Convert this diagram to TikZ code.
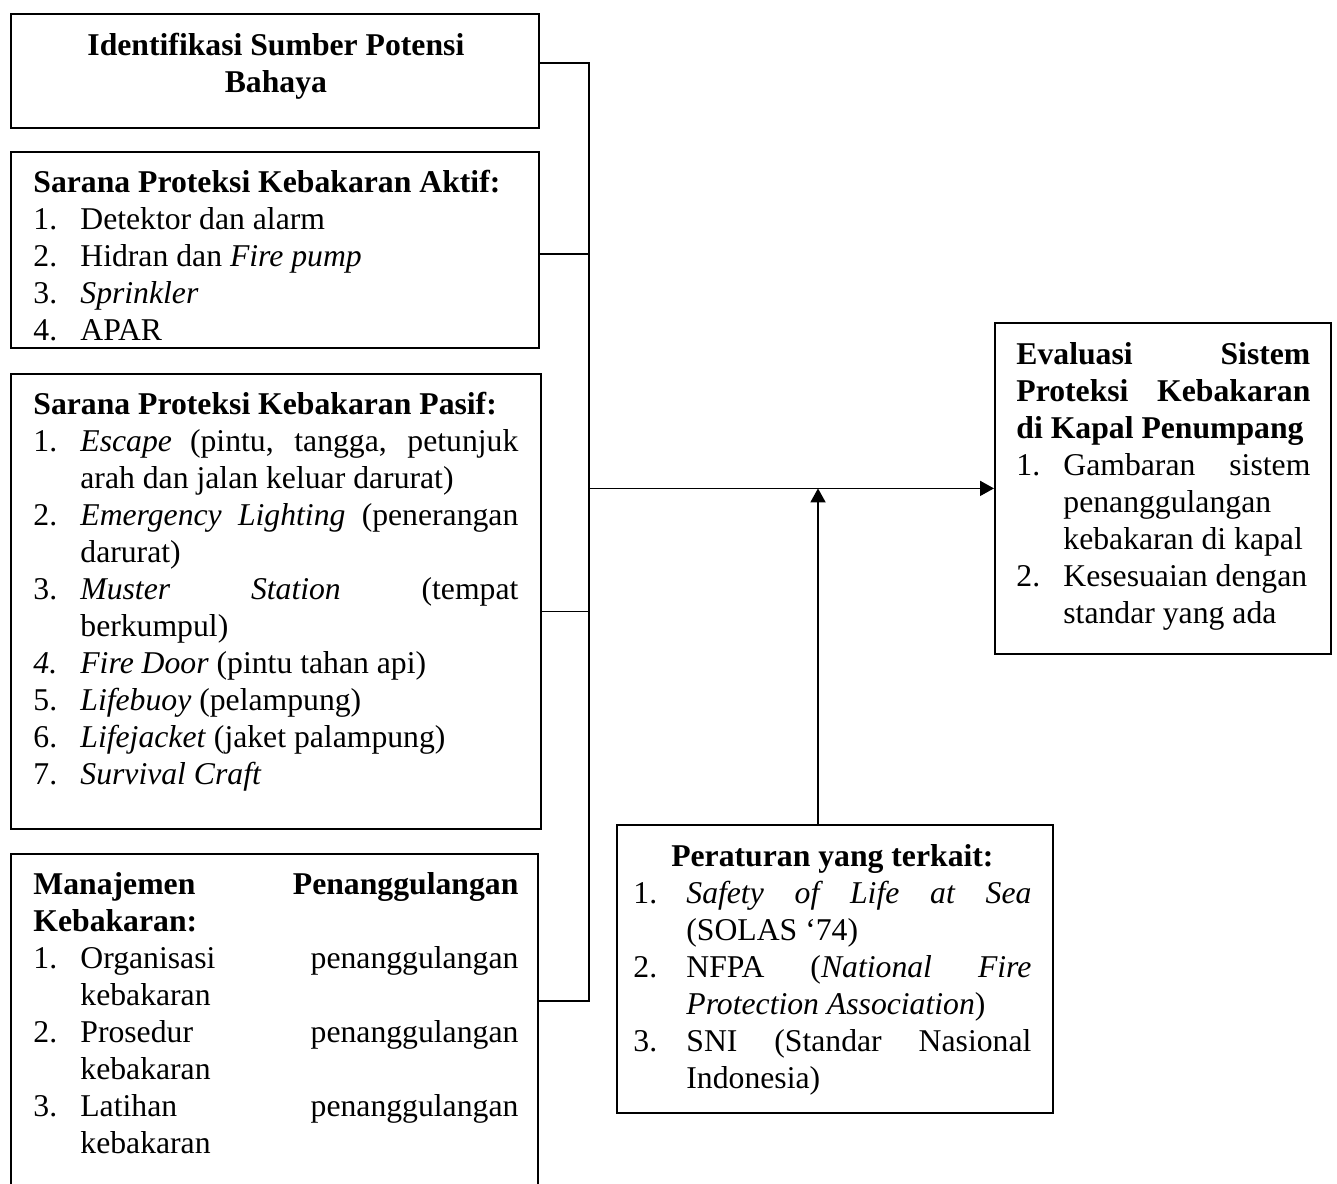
\documentclass[tikz,border=0pt]{standalone}
\usepackage{fontspec}
\setmainfont{Liberation Serif}
\usetikzlibrary{arrows.meta}
\newcommand\nm[1]{\makebox[23.5pt][l]{#1}}
\newcommand\nmb[1]{\makebox[26.5pt][l]{#1}}
\newcommand\jl[2]{\makebox[#1][s]{\spaceskip=0pt\relax\xspaceskip=0pt\relax #2}}
\newcommand\ind{\hspace*{23.5pt}}
\newcommand\indb{\hspace*{26.5pt}}
\newcommand\fl{\rule{0pt}{16pt}}
\newcommand\txtfont{\fontsize{15.85}{18.5}\selectfont}
\newcommand\txtsetup{\lineskiplimit=-20pt\relax\parindent=0pt\relax\spaceskip=0pt\relax\xspaceskip=0pt\relax}
\begin{document}
\begin{tikzpicture}[x=0.5pt,y=-0.5pt,
  boxshape/.style={draw,line width=0.9pt,inner sep=0pt,anchor=north west},
  txt/.style={inner sep=0pt,anchor=north west,align=left,font=\txtfont},
  link/.style={line width=0.9pt},
  tip/.style={line width=0.9pt,-{Triangle[length=7pt,width=7.5pt]}}]
\useasboundingbox (0,0) rectangle (1337,1183);

% boxes
\node[boxshape,minimum width=264pt,minimum height=57pt] (b1) at (10,13) {};
\node[boxshape,minimum width=264pt,minimum height=98pt] (b2) at (10,151) {};
\node[boxshape,minimum width=265pt,minimum height=227.5pt] (b3) at (10,373) {};
\node[boxshape,minimum width=263.5pt,minimum height=170pt] (b4) at (10,853) {};
\node[boxshape,minimum width=168pt,minimum height=165.5pt] (rb) at (994,322) {};
\node[boxshape,minimum width=218pt,minimum height=144pt] (pb) at (616,824) {};

% texts
\node[txt,text width=242.5pt] (t1) at (33,23) {\txtsetup\fl\makebox[242.5pt][c]{\textbf{Identifikasi Sumber Potensi}}\\
\makebox[242.5pt][c]{\textbf{Bahaya}}};

\node[txt,text width=242.5pt] (t2) at (33,160) {\txtsetup\fl\textbf{Sarana Proteksi Kebakaran Aktif:}\\
\nm{1.}Detektor dan alarm\\
\nm{2.}Hidran dan \textit{Fire pump}\\
\nm{3.}\textit{Sprinkler}\\
\nm{4.}APAR};

\node[txt,text width=242.5pt] (t3) at (33,382) {\txtsetup\fl\textbf{Sarana Proteksi Kebakaran Pasif:}\\
\nm{1.}\jl{219pt}{\textit{Escape} (pintu, tangga, petunjuk}\\
\ind arah dan jalan keluar darurat)\\
\nm{2.}\jl{219pt}{\textit{Emergency Lighting} (penerangan}\\
\ind darurat)\\
\nm{3.}\jl{219pt}{\textit{Muster} \textit{Station} (tempat}\\
\ind berkumpul)\\
\nm{\textit{4.}}\textit{Fire Door} (pintu tahan api)\\
\nm{5.}\textit{Lifebuoy} (pelampung)\\
\nm{6.}\textit{Lifejacket} (jaket palampung)\\
\nm{7.}\textit{Survival Craft}};

\node[txt,text width=242.5pt] (t4) at (33,862) {\txtsetup\fl\jl{242.5pt}{\textbf{Manajemen Penanggulangan}}\\
\textbf{Kebakaran:}\\
\nm{1.}\jl{219pt}{Organisasi penanggulangan}\\
\ind kebakaran\\
\nm{2.}\jl{219pt}{Prosedur penanggulangan}\\
\ind kebakaran\\
\nm{3.}\jl{219pt}{Latihan penanggulangan}\\
\ind kebakaran};

\node[txt,text width=147pt] (t5) at (1016,332) {\txtsetup\fl\jl{147pt}{\textbf{Evaluasi Sistem}}\\
\jl{147pt}{\textbf{Proteksi Kebakaran}}\\
\textbf{di Kapal Penumpang}\\
\nm{1.}\jl{123.5pt}{Gambaran sistem}\\
\ind penanggulangan\\
\ind kebakaran di kapal\\
\nm{2.}Kesesuaian dengan\\
\ind standar yang ada};

\node[txt,text width=199pt] (t6) at (633,834) {\txtsetup\fl\makebox[199pt][c]{\textbf{Peraturan yang terkait:}}\\
\nmb{1.}\jl{172.5pt}{\textit{Safety of Life at Sea}}\\
\indb (SOLAS ‘74)\\
\nmb{2.}\jl{172.5pt}{NFPA (\textit{National Fire}}\\
\indb \textit{Protection Association})\\
\nmb{3.}\jl{172.5pt}{SNI (Standar Nasional}\\
\indb Indonesia)};

% connectors
\coordinate (ttop) at (589,63);
\coordinate (tbot) at (589,1001);
\coordinate (pbtop) at (818,824);
\coordinate (c2) at ([yshift=-2pt]b2.east);
\coordinate (c3) at ([yshift=-5pt]b3.east);
\draw[link] (b1.east |- ttop) -- (ttop) -- (tbot) -- (b4.east |- tbot);
\draw[link] (c2) -- (c2 -| ttop);
\draw[link] (c3) -- (c3 -| ttop);
\draw[tip] (rb.west -| ttop) -- (rb.west);
\draw[tip] (pbtop) -- (pbtop |- rb.west);
\end{tikzpicture}
\end{document}
